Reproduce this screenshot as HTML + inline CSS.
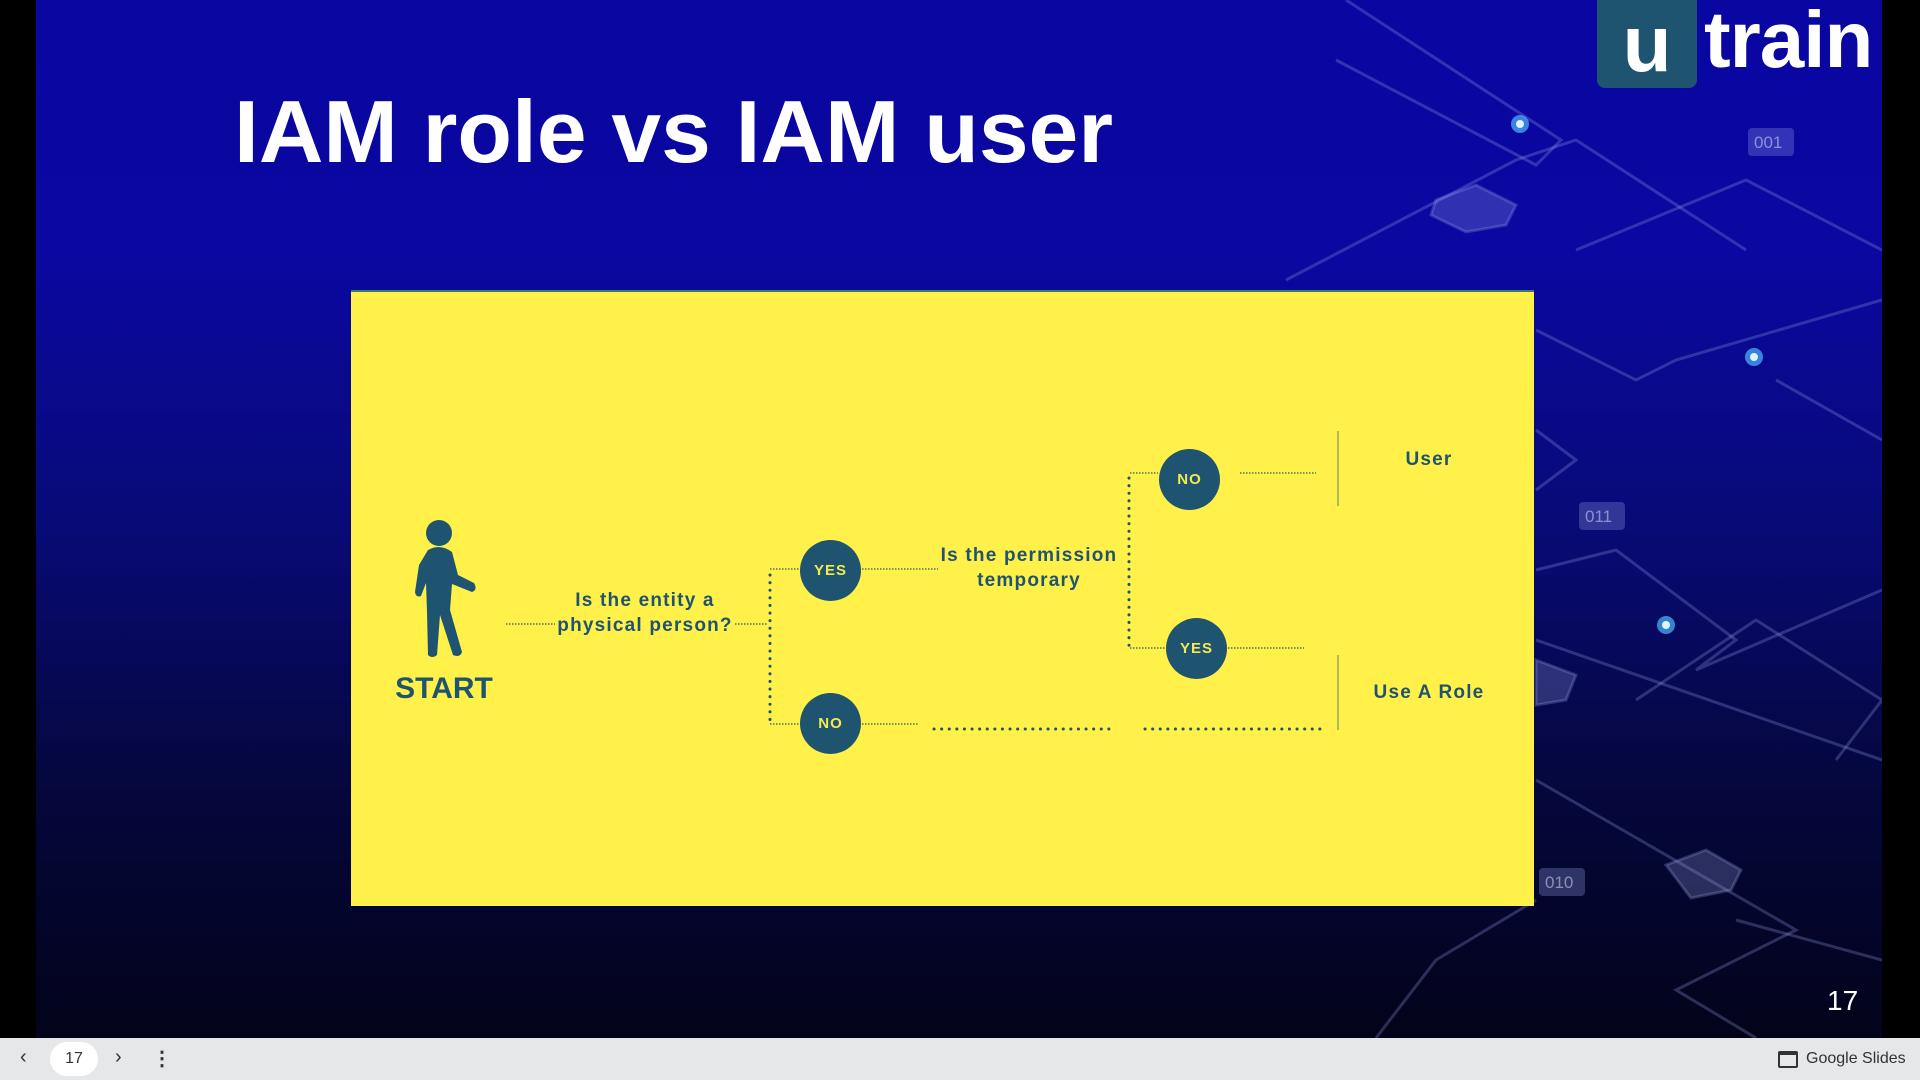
<!DOCTYPE html>
<html><head><meta charset="utf-8"><style>
*{margin:0;padding:0;box-sizing:border-box}
body{width:1920px;height:1080px;background:#000;position:relative;overflow:hidden;font-family:"Liberation Sans",sans-serif}
#slide{position:absolute;left:36px;top:0;width:1846px;height:1038px;background:linear-gradient(180deg,#0a06a2 0%,#0a08a0 25%,#080a78 50%,#05073e 75%,#03031a 100%);overflow:hidden}
#bar{position:absolute;left:0;top:1038px;width:1920px;height:42px;background:#e6e7e9;font-size:16px;color:#333}
#yellow{position:absolute;left:351px;top:290px;width:1183px;height:616px;background:#fff04a;border-top:2px solid #3a7a6a}
.c{position:absolute;width:61px;height:61px;border-radius:50%;background:#1e5470;color:#f3ea52;font-weight:bold;font-size:15px;letter-spacing:1px;display:flex;align-items:center;justify-content:center}
.t{position:absolute;color:#1e5470;font-weight:bold;font-size:19px;letter-spacing:1.2px;text-align:center;line-height:25px}
</style></head><body>
<div id="slide">
<svg width="1846" height="1038" style="position:absolute;left:0;top:0" fill="none" stroke="rgba(150,160,230,0.28)" stroke-width="3">
<path d="M1310 0 L1525 140 L1500 165 L1300 60"/>
<path d="M1540 250 L1710 180 L1846 250"/>
<path d="M1250 280 L1480 160 L1540 140 L1710 250"/>
<path d="M1500 330 L1600 380 L1640 360 L1846 300"/>
<path d="M1740 380 L1846 440"/>
<path d="M1500 430 L1540 460 L1500 490"/>
<path d="M1500 570 L1580 550 L1700 640 L1660 670 L1846 590"/>
<path d="M1600 700 L1720 620 L1846 700 L1800 760"/>
<path d="M1500 780 L1760 930 L1640 990 L1720 1038"/>
<path d="M1700 920 L1846 960"/>
<path d="M1500 900 L1400 960 L1340 1038"/>
<path d="M1500 640 L1846 760"/>
<polygon points="1400,200 1440,185 1480,205 1470,225 1430,232 1395,215" fill="rgba(160,170,230,0.25)"/>
<polygon points="1630,865 1670,850 1705,870 1695,890 1655,898" fill="rgba(160,170,230,0.25)"/>
<polygon points="1500,660 1540,675 1530,700 1500,705" fill="rgba(160,170,230,0.25)"/>
<rect x="1712" y="128" width="46" height="28" rx="4" fill="rgba(150,160,230,0.3)" stroke="none"/>
<rect x="1543" y="502" width="46" height="28" rx="4" fill="rgba(150,160,230,0.3)" stroke="none"/>
<rect x="1503" y="868" width="46" height="28" rx="4" fill="rgba(150,160,230,0.3)" stroke="none"/>
<g fill="rgba(200,205,240,0.6)" stroke="none" font-family="Liberation Sans" font-size="17">
<text x="1718" y="148">001</text><text x="1549" y="522">011</text><text x="1509" y="888">010</text></g>
<g stroke="none"><circle cx="1484" cy="124" r="9" fill="#4db8ff" opacity="0.7"/><circle cx="1484" cy="124" r="4" fill="#e0f4ff"/>
<circle cx="1718" cy="357" r="9" fill="#4db8ff" opacity="0.7"/><circle cx="1718" cy="357" r="4" fill="#e0f4ff"/>
<circle cx="1630" cy="625" r="9" fill="#4db8ff" opacity="0.7"/><circle cx="1630" cy="625" r="4" fill="#e0f4ff"/></g>
<text x="198" y="162" fill="#fff" stroke="none" font-family="Liberation Sans" font-weight="bold" font-size="88" textLength="879" lengthAdjust="spacingAndGlyphs">IAM role vs IAM user</text>
<text x="1791" y="1010" fill="#fff" stroke="none" font-family="Liberation Sans" font-size="28">17</text>
</svg>
<div style="position:absolute;left:1561px;top:0;width:100px;height:88px;background:#1e5470;border-radius:0 0 8px 8px"></div>
<div style="position:absolute;left:1561px;top:-2px;width:100px;text-align:center;color:#fff;font-weight:bold;font-size:80px">u</div>
<div style="position:absolute;left:1668px;top:-6px;color:#fff;font-weight:bold;font-size:80px;letter-spacing:-1px">train</div>
</div>
<div id="yellow"></div>
<svg width="1920" height="1080" style="position:absolute;left:0;top:0">
<g fill="#1e5470">
<circle cx="439" cy="533" r="13"/>
<path d="M428 550 Q440 543 452 552 L458 575 L474 583 Q478 590 472 592 L452 584 L450 610 L462 652 Q460 658 453 655 L440 615 L437 655 Q432 659 428 655 L427 612 L426 583 L421 596 Q416 598 415 592 L419 565 Z"/>
</g>
<text x="444" y="698" text-anchor="middle" font-family="Liberation Sans" font-weight="bold" font-size="30" fill="#1e5470">START</text>
<g stroke="#1e5470" fill="none">
<g stroke-width="1.5" stroke-dasharray="1.5 1.5" opacity="0.8">
<path d="M506 624 H555"/><path d="M735 624 H768"/>
<path d="M770 569 H800"/><path d="M862 569 H938"/>
<path d="M770 724 H800"/><path d="M862 724 H918"/>
<path d="M1130 473 H1158"/><path d="M1240 473 H1316"/>
<path d="M1130 648 H1166"/><path d="M1228 648 H1304"/>
</g>
<g stroke-width="3" stroke-linecap="round" stroke-dasharray="0.1 7.5">
<path d="M770 575 V725"/><path d="M1129 478 V650"/>
<path d="M934 729 H1110"/><path d="M1145 729 H1321"/>
</g>
<path d="M1338 431 V506 M1338 655 V730" stroke-width="1" opacity="0.7"/>
</g>
</svg>
<div class="t" style="left:530px;top:588px;width:230px">Is the entity a<br>physical person?</div>
<div class="t" style="left:914px;top:543px;width:230px">Is the permission<br>temporary</div>
<div class="t" style="left:1329px;top:447px;width:200px">User</div>
<div class="t" style="left:1329px;top:680px;width:200px">Use A Role</div>
<div class="c" style="left:800px;top:540px">YES</div>
<div class="c" style="left:800px;top:693px">NO</div>
<div class="c" style="left:1159px;top:449px">NO</div>
<div class="c" style="left:1166px;top:618px">YES</div>
<div id="bar">
<span style="position:absolute;left:20px;top:8px;font-size:20px">‹</span>
<div style="position:absolute;left:50px;top:4px;width:48px;height:34px;border-radius:17px;background:#fff;text-align:center;line-height:34px">17</div>
<span style="position:absolute;left:115px;top:8px;font-size:20px">›</span>
<span style="position:absolute;left:152px;top:8px;font-size:20px;font-weight:bold">⋮</span>
<div style="position:absolute;left:1778px;top:13px;width:20px;height:17px;border:2px solid #333;border-radius:2px;border-top-width:4px"></div>
<span style="position:absolute;left:1806px;top:12px;font-size:16px">Google Slides</span>
</div>
</body></html>
